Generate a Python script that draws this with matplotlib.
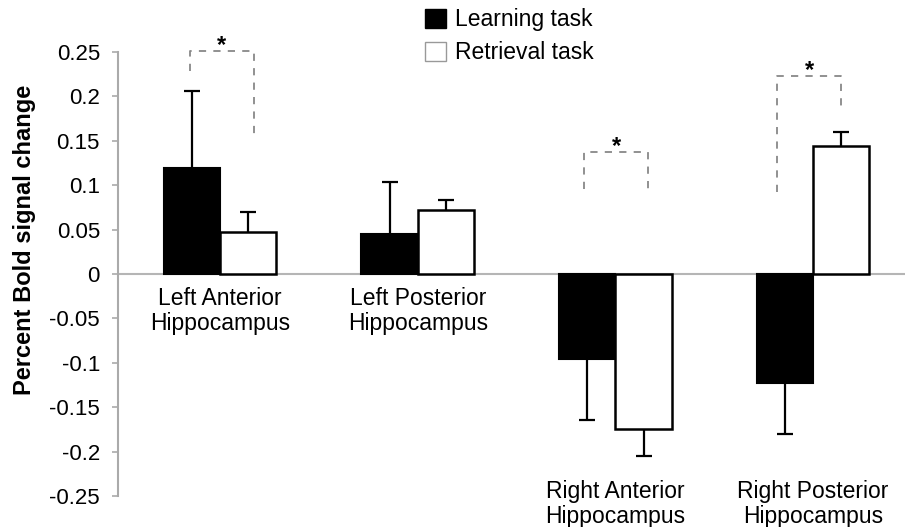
import matplotlib
matplotlib.use("Agg")
import matplotlib.pyplot as plt
import numpy as np
from matplotlib.patches import Patch

plt.rcParams['font.family'] = ['Liberation Sans', 'DejaVu Sans']

regions = ["Left Anterior\nHippocampus", "Left Posterior\nHippocampus",
           "Right Anterior\nHippocampus", "Right Posterior\nHippocampus"]
learning = [0.119, 0.045, -0.096, -0.123]
learning_err = [0.087, 0.059, 0.068, 0.057]
retrieval = [0.047, 0.072, -0.175, 0.144]
retrieval_err = [0.023, 0.011, 0.030, 0.016]
series_names = ["Learning task", "Retrieval task"]
yticks = [-0.25, -0.2, -0.15, -0.1, -0.05, 0, 0.05, 0.1, 0.15, 0.2, 0.25]
ytick_labels = ["-0.25", "-0.2", "-0.15", "-0.1", "-0.05", "0",
                "0.05", "0.1", "0.15", "0.2", "0.25"]
# significance brackets: (group, left leg bottom, right leg bottom, top)
sig_groups = [0, 2, 3]
sig_left_bottom = [0.229, 0.096, 0.092]
sig_right_bottom = [0.158, 0.096, 0.186]
sig_top = [0.251, 0.137, 0.223]

fig = plt.figure(figsize=(9.05, 5.27), dpi=100)
ax = fig.add_axes([118/905, 1-496/527, 1-118/905, (496-52)/527])

x = np.arange(len(regions))
w = 0.285

ax.bar(x - w/2, learning, w, color='black', edgecolor='black', linewidth=1.5, zorder=3)
ax.bar(x + w/2, retrieval, w, color='white', edgecolor='black', linewidth=1.8, zorder=3)

# one-sided error bars
for xs, vals, errs in [(x - w/2, learning, learning_err), (x + w/2, retrieval, retrieval_err)]:
    for xi, v, e in zip(xs, vals, errs):
        end = v + e if v >= 0 else v - e
        ax.plot([xi, xi], [v, end], color='black', lw=1.6, zorder=2, solid_capstyle='butt')
        ax.plot([xi], [end], marker='_', markersize=12, markeredgewidth=1.6,
                color='black', zorder=2)

ax.axhline(0, color='#b5b5b5', lw=1.5, zorder=1)

ax.set_xlim(-0.516, 3.465)
ax.set_ylim(-0.25, 0.25)
ax.set_xticks([])
ax.set_yticks(yticks)
ax.set_yticklabels(ytick_labels, fontsize=16)
ax.tick_params(axis='y', direction='out', length=4, width=1.2, color='#aaaaaa', pad=9)
for s in ['top', 'right', 'bottom']:
    ax.spines[s].set_visible(False)
ax.spines['left'].set_color('#aaaaaa')
ax.spines['left'].set_linewidth(1.5)

# category labels
for i, (lab, a, b) in enumerate(zip(regions, learning, retrieval)):
    ytxt = -0.0145 if min(a, b) >= 0 else -0.232
    ax.text(i, ytxt, lab, ha='center', va='top', fontsize=16.5, linespacing=1.1, clip_on=False)

# significance brackets
leg_off = {0: (-0.152, 0.172), 2: (-0.157, 0.167), 3: (-0.182, 0.142)}
for g, lb, rb, top in zip(sig_groups, sig_left_bottom, sig_right_bottom, sig_top):
    xl = g + leg_off[g][0]
    xr = g + leg_off[g][1]
    ax.plot([xl, xl, xr, xr], [lb, top, top, rb], color='#888888', lw=1.3,
            ls=(0, (4, 4)), clip_on=False, zorder=2)
    ax.annotate('*', xy=((xl + xr)/2, top), xytext=(0, 4), textcoords='offset points',
                ha='center', va='center', fontsize=17, fontweight='bold', annotation_clip=False)

handles = [Patch(facecolor='black', edgecolor='black'),
           Patch(facecolor='white', edgecolor='#999999')]
fig.legend(handles, series_names, loc='upper left',
           bbox_to_anchor=(425/905, 1-8/527), frameon=False, fontsize=16.5,
           handlelength=0.9, handleheight=0.9, handletextpad=0.4,
           labelspacing=0.45, borderpad=0, borderaxespad=0)

fig.text(25/905, 1-240/527, "Percent Bold signal change", rotation=90,
         ha='center', va='center', fontsize=17, fontweight='bold')

fig.savefig("out.png", dpi=100)
